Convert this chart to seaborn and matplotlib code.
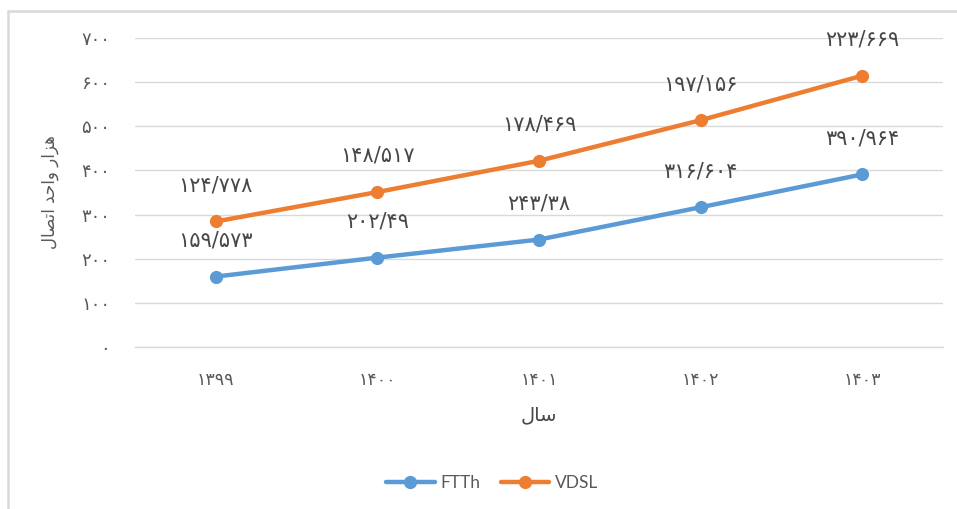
import matplotlib
matplotlib.use("Agg")
import matplotlib.pyplot as plt
from matplotlib.patches import Rectangle
import seaborn as sns
import pandas as pd

# Subscriber counts (thousands of connections) per Iranian year
years = ["1399", "1400", "1401", "1402", "1403"]
ftth = [159.573, 202.49, 243.38, 316.604, 390.964]
vdsl = [124.778, 148.517, 178.469, 197.156, 223.669]
y_ticks = [0, 100, 200, 300, 400, 500, 600, 700]

BLUE = "#5B9BD5"
ORANGE = "#ED7D31"
GRID = "#D9D9D9"
TXT = "#595959"
LBL = "#474747"

PERSIAN = str.maketrans("0123456789.", "۰۱۲۳۴۵۶۷۸۹/")


def fa(v):
    return f"{v:g}".translate(PERSIAN)


# pre-shaped, visually ordered Persian strings
x_title = "ﻝﺎﺳ"                       # سال
y_title = "ﻝﺎﺼﺗﺍ ﺪﺣﺍﻭ ﺭﺍﺰﻫ"          # هزار واحد اتصال

# stacked-line: the VDSL curve sits on top of FTTh
vdsl_stack = [a + b for a, b in zip(ftth, vdsl)]
df = pd.DataFrame({
    "pos": list(range(len(years))) * 2,
    "value": ftth + vdsl_stack,
    "series": ["FTTh"] * len(years) + ["VDSL"] * len(years),
})

sns.set_theme(style="white")
plt.rcParams["font.family"] = ["DejaVu Sans"]

fig = plt.figure(figsize=(9.57, 5.09), dpi=100)
ax = fig.add_axes([135 / 957, 162 / 509, 808 / 957, 309 / 509])

sns.lineplot(data=df, x="pos", y="value", hue="series",
             palette={"FTTh": BLUE, "VDSL": ORANGE},
             marker="o", markersize=9.5, markeredgewidth=0,
             linewidth=3.2, ax=ax, legend=True)

# data labels above each point
for i in range(len(years)):
    ax.annotate(fa(ftth[i]), (i, ftth[i]), xytext=(0, 26), textcoords="offset points",
                ha="center", va="center", fontsize=15, color=LBL)
    ax.annotate(fa(vdsl[i]), (i, vdsl_stack[i]), xytext=(0, 26), textcoords="offset points",
                ha="center", va="center", fontsize=15, color=LBL)

ax.set_xlim(-0.5, len(years) - 0.5)
ax.set_ylim(0, 700)
ax.set_yticks(y_ticks)
ax.set_yticklabels([fa(t) for t in y_ticks], fontsize=13, color=TXT)
ax.set_xticks(range(len(years)))
ax.set_xticklabels([y.translate(PERSIAN) for y in years], fontsize=12.5, color=TXT)
ax.set_xticks([i - 0.5 for i in range(len(years) + 1)], minor=True)
ax.tick_params(axis="y", length=0, pad=18)
ax.tick_params(axis="x", which="major", length=0, pad=17)
ax.tick_params(axis="x", which="minor", length=6, width=1, color=GRID, direction="out")

ax.grid(axis="y", color=GRID, linewidth=1)
ax.set_axisbelow(True)
for s in ["top", "right", "left"]:
    ax.spines[s].set_visible(False)
ax.spines["bottom"].set_color(GRID)
ax.spines["bottom"].set_linewidth(1)

ax.set_xlabel(x_title, fontsize=14, color=LBL, labelpad=12)
ax.set_ylabel(y_title, fontsize=12, color=TXT, labelpad=16)

handles, labels = ax.get_legend_handles_labels()
ax.legend(handles, labels, loc="center", bbox_to_anchor=(492 / 957, 1 - 483 / 509),
          bbox_transform=fig.transFigure, ncol=2, frameon=False,
          handlelength=2.8, columnspacing=1.2, handletextpad=0.3,
          prop={"family": ["Lato", "DejaVu Sans"], "size": 12.5}, labelcolor=TXT)

# outer chart frame
fig.patches.append(Rectangle((8 / 957, -0.1), 1.2, 1.1 - 11 / 509,
                             transform=fig.transFigure, fill=False,
                             edgecolor=GRID, linewidth=1.8))

fig.savefig("out.png", dpi=100)
